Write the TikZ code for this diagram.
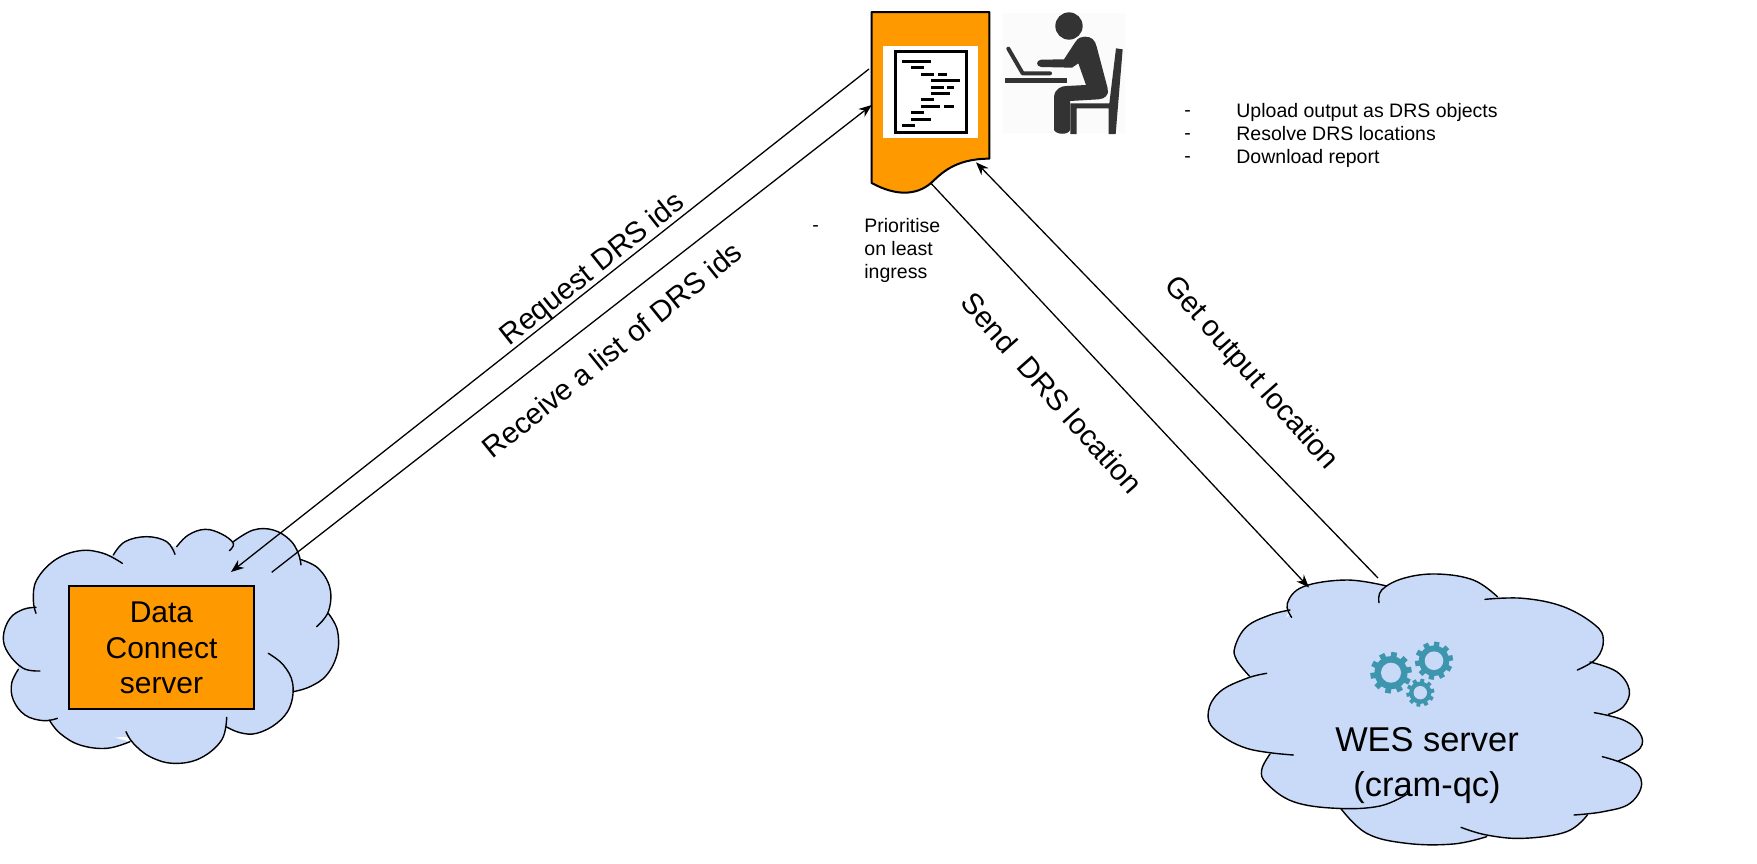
\documentclass[tikz,border=0pt]{standalone}
\usepackage{fontspec}
\setmainfont{Liberation Sans}
\usetikzlibrary{arrows.meta}
\definecolor{cloudblue}{HTML}{C9DAF8}
\definecolor{docorange}{HTML}{FF9900}
\definecolor{gearteal}{HTML}{3D96AD}
\definecolor{iconink}{HTML}{333333}
\tikzset{
  flow/.style={line width=0.65pt,-{Stealth[length=6.5pt,width=5pt]}},
  lobefillstyle/.style={fill=cloudblue,draw=none},
  lobeline/.style={line width=0.7pt,draw=black,line cap=round},
  biglabel/.style={font=\fontsize{14.7}{17}\selectfont,inner sep=0pt},
  smalllabel/.style={font=\fontsize{9.75}{11.4}\selectfont,inner sep=0pt,align=left,anchor=north west},
}
\newcommand{\lobefill}[1]{\fill[lobefillstyle] plot[smooth,tension=0.65] coordinates {#1} -- cycle;}
\newcommand{\lobedraw}[1]{\draw[lobeline] plot[smooth,tension=0.65] coordinates {#1};}
\newcommand{\cloudA}[1]{%
 #1{(108,310)(100,270)(110,210)(165,150)(240,122)(310,130)(367,160)}
 #1{(340,135)(375,95)(440,80)(500,95)(525,133)}
 #1{(530,110)(565,75)(615,58)(665,72)(700,100)(688,122)}
 #1{(700,95)(760,60)(820,60)(870,90)(895,130)(903,165)}
 #1{(900,148)(955,175)(990,235)(985,305)(950,350)}
 #1{(985,310)(1012,360)(1012,430)(980,495)(930,530)(880,545)}
 #1{(805,430)(850,465)(878,520)(870,590)(830,640)(770,670)(720,668)(678,650)}
 #1{(680,622)(665,690)(600,745)(520,760)(450,740)(400,700)(378,665)}
 #1{(390,695)(320,715)(240,705)(180,670)(148,630)}
 #1{(172,625)(130,632)(75,615)(40,570)(35,520)(55,478)}
 #1{(120,483)(70,475)(25,430)(10,380)(30,325)(70,298)(108,292)}
}
\newcommand{\cloudB}[1]{%
 #1{(305,172)(292,130)(340,80)(470,60)(590,78)}
 #1{(567,128)(575,90)(640,55)(740,42)(850,60)(922,110)}
 #1{(885,118)(1000,115)(1120,140)(1215,195)(1240,240)(1220,295)(1162,330)}
 #1{(1200,306)(1280,335)(1318,390)(1300,440)(1255,463)}
 #1{(1213,458)(1300,480)(1350,520)(1350,565)(1285,603)}
 #1{(1237,590)(1320,620)(1355,670)(1320,730)(1240,755)(1152,765)}
 #1{(1192,765)(1130,815)(1000,835)(890,825)(813,802)}
 #1{(890,830)(790,852)(650,850)(530,820)(452,745)}
 #1{(655,700)(570,738)(440,745)(310,725)(230,670)(215,630)(240,582)}
 #1{(310,585)(170,565)(75,510)(55,455)(90,395)(170,355)(230,340)}
 #1{(178,348)(140,300)(135,260)(170,200)(240,165)(300,150)}
}
\newcommand{\gearicon}[4]{%
 \begin{scope}[shift={(#1,#2)}]
  \fill[gearteal] (0,0) circle (#3*0.80);
  \foreach \a in {0,36,...,324}{
    \fill[gearteal,rotate=\a+9] (#3*0.7,-#3*0.14) rectangle (#3,#3*0.14);
  }
  \fill[cloudblue] (0,0) circle (#4);
 \end{scope}}
\begin{document}
\begin{tikzpicture}[x=0.5pt,y=-0.5pt]
\useasboundingbox (0,0) rectangle (1757,863);
\fill[white] (0,0) rectangle (1757,863);

% Data Connect cloud
\begin{scope}[shift={(0,510)},scale=1/3]
 \cloudA{\lobefill}
 \fill[cloudblue] (108,300)--(200,160)--(340,135)--(440,100)--(530,110)--(610,80)--(700,95)--(820,90)--(900,150)--(960,230)--(985,310)--(990,420)--(880,545)--(770,650)--(680,650)--(520,740)--(378,680)--(260,690)--(148,630)--(70,570)--(55,478)--(40,380)--cycle;
 \cloudA{\lobedraw}
\end{scope}

% WES cloud
\begin{scope}[shift={(1190,560)},scale=1/3]
 \cloudB{\lobefill}
 \fill[cloudblue] (305,160)--(400,90)--(590,78)--(740,60)--(885,100)--(1100,150)--(1200,306)--(1290,390)--(1255,463)--(1330,530)--(1285,603)--(1320,680)--(1192,765)--(1000,820)--(890,830)--(650,835)--(452,745)--(300,710)--(240,582)--(100,470)--(178,348)--(220,220)--cycle;
 \cloudB{\lobedraw}
\end{scope}

% Data Connect box
\node[draw=black,fill=docorange,line width=0.7pt,minimum width=92.5pt,minimum height=61.5pt,inner sep=0pt,
      align=center,font=\fontsize{15}{17.5}\selectfont] (dc) at (161.5,647.5) {Data\\[0.5pt]Connect\\server};

% gears
\gearicon{1391}{672.7}{20.7}{10}
\gearicon{1434}{660.7}{19}{9.3}
\gearicon{1420.3}{692.7}{14}{6.7}

\node[inner sep=0pt,align=center,font=\fontsize{17.2}{22.5}\selectfont] (wes) at (1427,766) {WES server\\(cram-qc)};

% Document
\begin{scope}[shift={(840,0)},scale=1/3]
 \draw[fill=docorange,line width=1pt,line join=round] (95,36) -- (448,36) -- (448,476)
   .. controls (340,476) and (300,525) .. (272,550)
   .. controls (230,585) and (170,590) .. (95,549) -- cycle;
 \fill[white] (130,137) rectangle (413,415);
 \draw[line width=1.5pt] (167,153) rectangle (378,398);
 \foreach \yy/\xa/\xb in {184/185/272,203/214/252,222/243/282,222/293/321,242/272/360,261/272/311,261/321/341,280/272/330,299/243/282,319/243/301,319/311/341,338/214/252,357/214/272,376/185/224}{
   \fill[black] (\xa,\yy-4.5) rectangle (\xb,\yy+4.5);
 }
 % person icon
 \fill[black!1.5] (490,40) rectangle (855,400);
 \fill[iconink] (687,78) circle (41);
 \fill[iconink] (495,235) rectangle (680,250);
 \draw[iconink,line width=2pt,line cap=round,line join=round] (505,146) -- (548,220) -- (630,220);
 \fill[iconink] (672,178) -- (706,126) .. controls (715,112) and (725,110) .. (735,110)
   .. controls (755,110) and (765,120) .. (770,140) -- (803,265)
   .. controls (808,285) and (795,297) .. (775,298) -- (690,303) -- (690,390)
   .. controls (685,405) and (650,405) .. (642,390) -- (642,290)
   .. controls (645,265) and (665,258) .. (680,258) -- (738,255) -- (715,190)
   -- (696,203) -- (604,201) .. controls (587,200) and (587,180) .. (604,179) -- cycle;
 \fill[iconink] (828,145) -- (848,148) -- (827,402) -- (806,402) -- (806,325) -- (710,325)
   -- (710,402) -- (691,402) -- (691,310) -- (808,310) -- cycle;
\end{scope}

% connector ends
\coordinate (reqS) at (869,69);
\coordinate (reqE) at (231,572);
\coordinate (recS) at (271.7,572.3);
\coordinate (recE) at (871.7,105);
\coordinate (sendS) at (930.7,183);
\coordinate (sendE) at (1309,587.5);
\coordinate (getS) at (1378,578);
\coordinate (getE) at (976,162.3);
\draw[flow] (reqS) -- (reqE);
\draw[flow] (recS) -- (recE);
\draw[flow] (sendS) -- (sendE);
\draw[flow] (getS) -- (getE);

% labels
\node[biglabel,rotate=38.5] (l1) at (593,270) {Request DRS ids};
\node[biglabel,rotate=39] (l2) at (612,350) {Receive a list of DRS ids};
\node[biglabel,rotate=-48.5] (l3) at (1052,393) {Send\ \ DRS location};
\node[biglabel,rotate=-48.5] (l4) at (1250.5,373.7) {Get output location};

\node[smalllabel] (d1) at (812,218) {\vphantom{P}-};
\node[smalllabel] (t1) at (864,218) {Prioritise\\on least\\ingress};
\node[smalllabel] (d2) at (1184,103) {\vphantom{U}-\\-\\-};
\node[smalllabel] (t2) at (1236,103) {Upload output as DRS objects\\Resolve DRS locations\\Download report};
\end{tikzpicture}
\end{document}
